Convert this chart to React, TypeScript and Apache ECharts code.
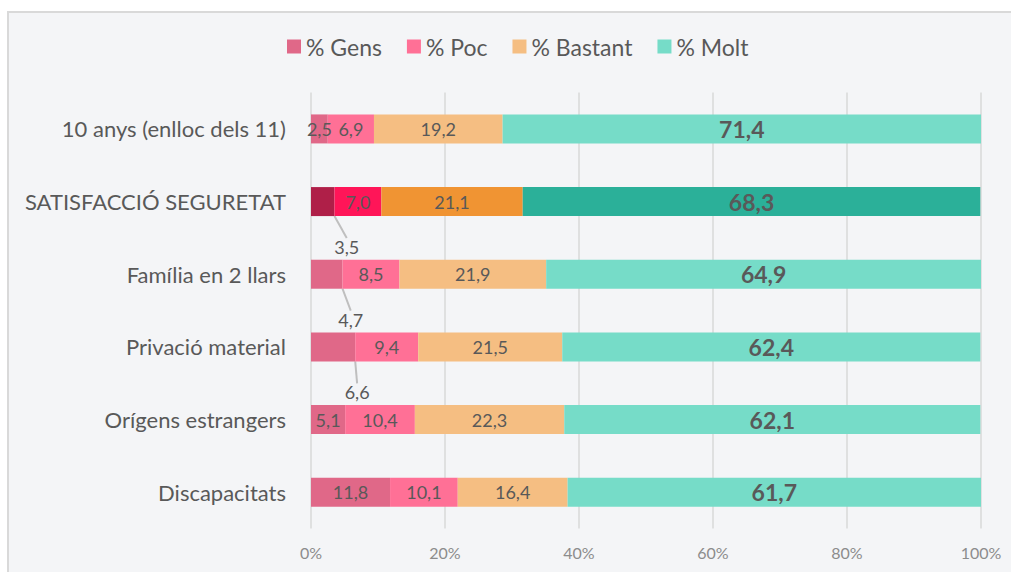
import React, { useEffect, useRef } from "react";
import * as echarts from "echarts";

const categories = [
  "10 anys (enlloc dels 11)",
  "SATISFACCIÓ SEGURETAT",
  "Família en 2 llars",
  "Privació material",
  "Orígens estrangers",
  "Discapacitats",
];
const seriesNames = ["% Gens", "% Poc", "% Bastant", "% Molt"];
const gens = [2.5, 3.5, 4.7, 6.6, 5.1, 11.8];
const poc = [6.9, 7.0, 8.5, 9.4, 10.4, 10.1];
const bastant = [19.2, 21.1, 21.9, 21.5, 22.3, 16.4];
const molt = [71.4, 68.3, 64.9, 62.4, 62.1, 61.7];
const xTicks = [0, 20, 40, 60, 80, 100];

const baseColors = ["#E06888", "#FF7096", "#F5BE82", "#76DCC8"];
const highlightColors = ["#AF1F48", "#FF1558", "#F09433", "#2BB099"];
const highlightIndex = 1;
const outsideLabelRows = [1, 2, 3];

const FONT = "Lato, 'Open Sans', sans-serif";

const fmt = (v: number) => v.toFixed(1).replace(".", ",");

export default function App() {
  const ref = useRef<HTMLDivElement>(null);
  useEffect(() => {
    if (!ref.current) return;
    const chart = echarts.init(ref.current, null, { renderer: "svg" });
    const all = [gens, poc, bastant, molt];
    const series = all.map((vals, si) => ({
      name: seriesNames[si],
      type: "bar",
      stack: "total",
      barWidth: 29,
      itemStyle: { color: baseColors[si] },
      label: {
        show: true,
        position: "inside",
        color: "#595959",
        fontFamily: FONT,
        fontSize: si === 3 ? 23 : 18,
        fontWeight: si === 3 ? "bold" : "normal",
        formatter: (p: any) => fmt(p.value),
      },
      labelLayout:
        si === 0
          ? (p: any) =>
              outsideLabelRows.includes(p.dataIndex)
                ? {
                    x: p.rect.x + p.rect.width / 2 + 24,
                    y: p.rect.y + p.rect.height + 31,
                    align: "center",
                    verticalAlign: "middle",
                  }
                : {}
          : undefined,
      data: vals.map((v, i) => {
        const item: any = { value: v };
        if (i === highlightIndex) item.itemStyle = { color: highlightColors[si] };
        if (si === 0) {
          item.labelLine = {
            show: outsideLabelRows.includes(i),
            lineStyle: { color: "#BFBFBF", width: 2 },
          };
        }
        return item;
      }),
    }));

    chart.setOption({
      animation: false,
      backgroundColor: "#FFFFFF",
      textStyle: { fontFamily: FONT },
      graphic: [
        {
          type: "rect",
          z: -10,
          silent: true,
          shape: { x: 8, y: 12, width: 1010, height: 600 },
          style: { fill: "#F4F5F7", stroke: "#D9D9D9", lineWidth: 2 },
        },
      ],
      legend: {
        top: 30,
        left: 282,
        icon: "rect",
        itemWidth: 14,
        itemHeight: 14,
        itemGap: 25,
        textStyle: { fontSize: 23, color: "#595959", fontFamily: FONT },
        data: seriesNames,
      },
      grid: { left: 311, right: 30, top: 92.6, bottom: 43.5, containLabel: false },
      xAxis: {
        type: "value",
        min: xTicks[0],
        max: xTicks[xTicks.length - 1],
        interval: 20,
        axisLine: { show: false },
        axisTick: { show: false },
        splitLine: { lineStyle: { color: "#D9D9D9", width: 1.5 } },
        axisLabel: {
          formatter: "{value}%",
          color: "#8C8C8C",
          fontSize: 16,
          fontFamily: FONT,
          margin: 16,
        },
      },
      yAxis: {
        type: "category",
        inverse: true,
        data: categories,
        axisLine: { show: false },
        axisTick: { show: false },
        axisLabel: {
          color: "#595959",
          fontSize: 22,
          fontFamily: FONT,
          margin: 25,
        },
      },
      series,
    });
    return () => chart.dispose();
  }, []);
  return (
    <div
      ref={ref}
      style={{ position: "fixed", left: 0, top: 0, width: 1011, height: 572 }}
    />
  );
}
